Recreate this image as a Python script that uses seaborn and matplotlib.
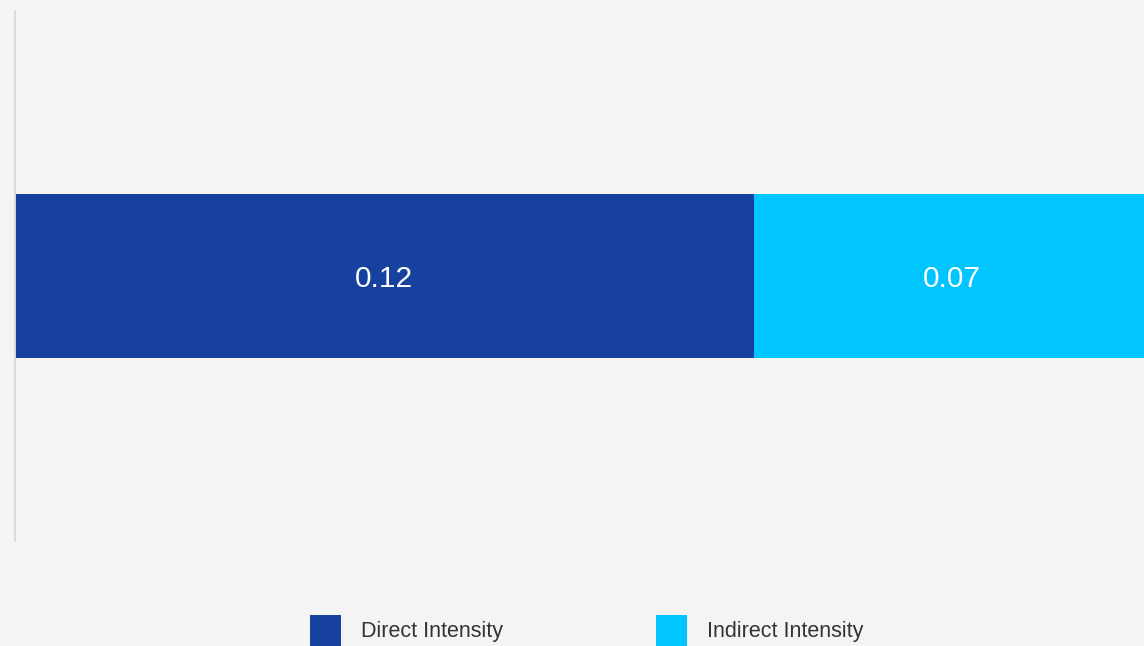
import matplotlib
matplotlib.use("Agg")
import matplotlib.pyplot as plt
import seaborn as sns
import pandas as pd
from matplotlib.patches import Patch

categories = ["Intensity"]
series_names = ["Direct Intensity", "Indirect Intensity"]
direct_values = [0.124]
indirect_values = [0.0665]
colors = ["#16419F", "#00C5FF"]

sns.set_theme(style="white")
plt.rcParams["font.family"] = ["Liberation Sans", "DejaVu Sans"]

bg = "#F4F4F4"
fig = plt.figure(figsize=(11.44, 6.46), dpi=100, facecolor=bg)
ax = fig.add_axes([15 / 1144, 1 - 541 / 646, (1150 - 15) / 1144, 530 / 646])
ax.set_facecolor(bg)

totals = [d + i for d, i in zip(direct_values, indirect_values)]
df_total = pd.DataFrame({"cat": categories, "val": totals})
df_direct = pd.DataFrame({"cat": categories, "val": direct_values})

sns.barplot(data=df_total, x="val", y="cat", color=colors[1], width=0.311,
            saturation=1, ax=ax, edgecolor="none", linewidth=0)
sns.barplot(data=df_direct, x="val", y="cat", color=colors[0], width=0.311,
            saturation=1, ax=ax, edgecolor="none", linewidth=0)

for idx, (d, i) in enumerate(zip(direct_values, indirect_values)):
    ax.text(d / 2, idx, f"{d:.2f}", ha="center", va="center_baseline",
            color="white", fontsize=21.5)
    ax.text(d + i / 2, idx, f"{i:.2f}", ha="center", va="center_baseline",
            color="white", fontsize=21.5)

ax.set_xlim(0, max(totals))
ax.set_ylim(0.5, -0.5)
ax.set_xlabel("")
ax.set_ylabel("")
ax.set_xticks([])
ax.set_yticks([])
for side in ["top", "right", "bottom"]:
    ax.spines[side].set_visible(False)
ax.spines["left"].set_color("#DADADA")
ax.spines["left"].set_linewidth(1.4)

handles = [Patch(facecolor=c, edgecolor="none", label=n) for c, n in zip(colors, series_names)]
fig.legend(handles=handles, loc="center", bbox_to_anchor=(587 / 1144, 15.5 / 646),
           ncol=2, frameon=False, fontsize=15.5, handlelength=1.44, handleheight=1.79,
           handletextpad=0.93, columnspacing=7.1, borderpad=0, labelcolor="#333333")

fig.savefig("out.png", dpi=100, facecolor=bg)
